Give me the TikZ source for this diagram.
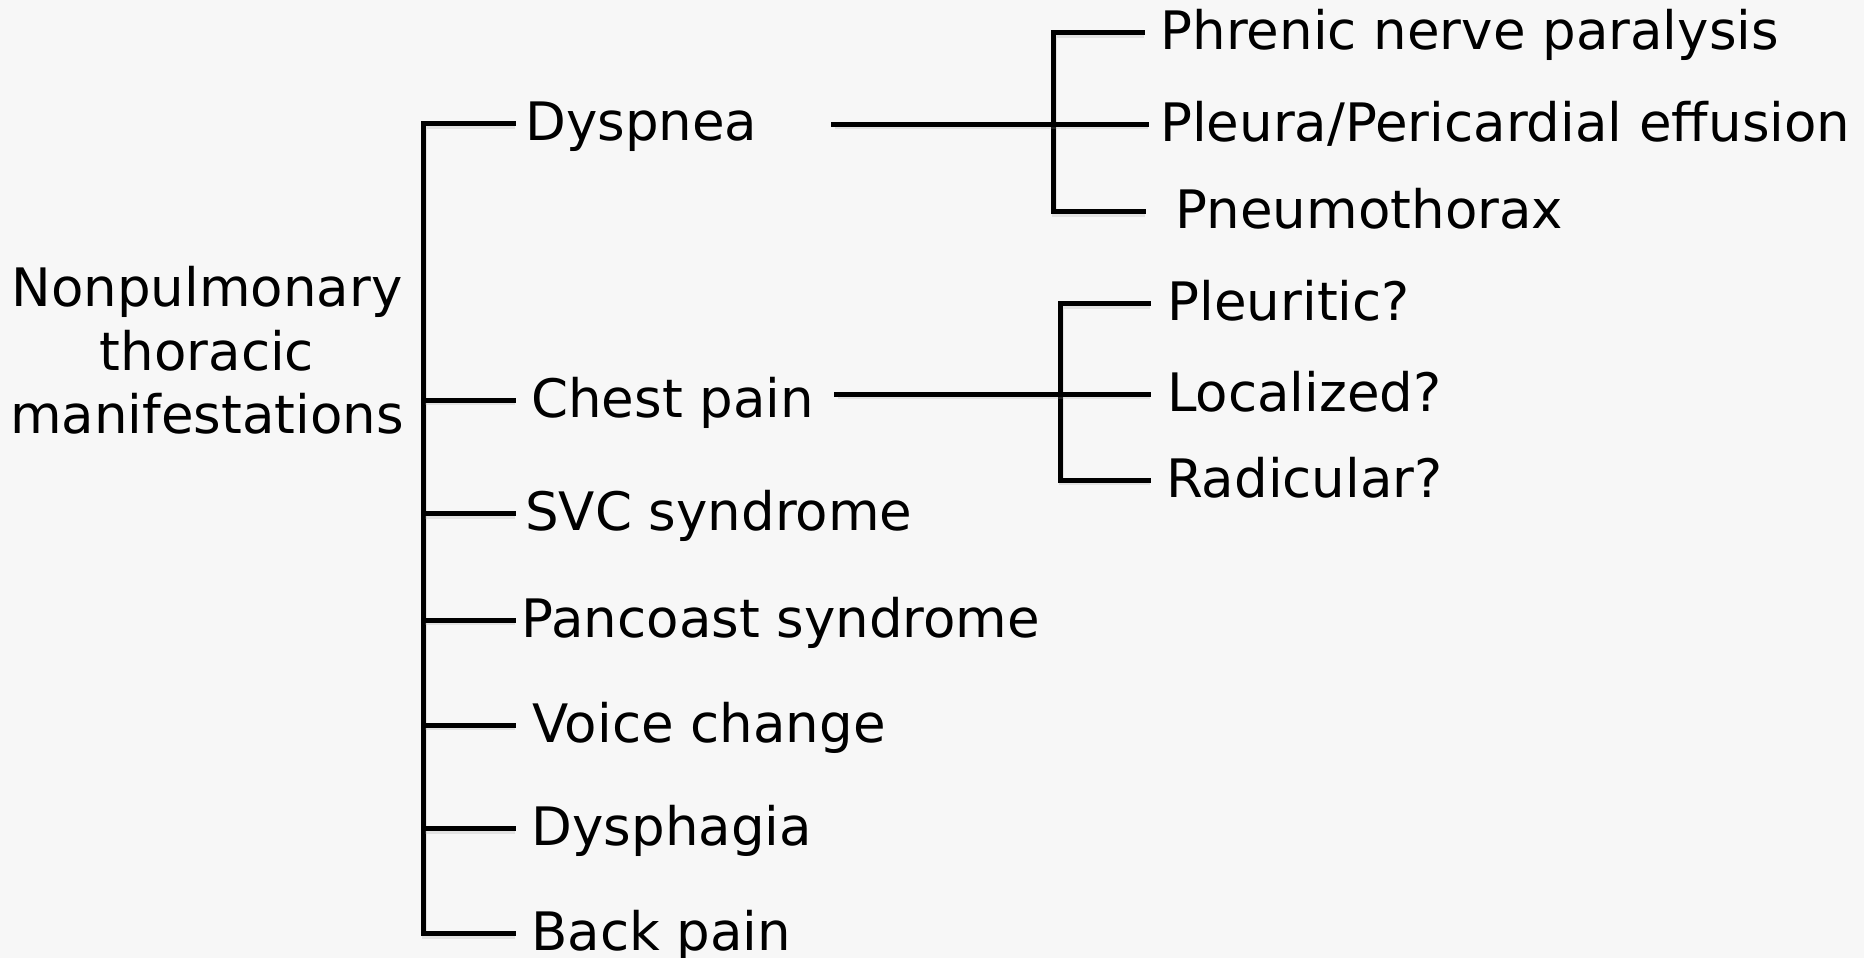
\documentclass[tikz,border=0pt]{standalone}
\usepackage{fontspec}
\setmainfont{DejaVu Sans}
\usetikzlibrary{calc}
\definecolor{paper}{RGB}{247,247,247}
\begin{document}
\begin{tikzpicture}[x=1pt,y=-1pt,
  ln/.style={line width=5pt, line join=miter, line cap=rect,
    preaction={draw=black!40, opacity=0.22, line width=5.5pt,
      transform canvas={shift={(1.5pt,-2.5pt)}}}},
  item/.style={anchor=west, inner ysep=0pt, inner xsep=#1,
    text height=39.75pt, text depth=5.3pt,
    font=\fontsize{53}{63.5}\selectfont},
  item/.default=12pt]
  \fill[paper] (0,0) rectangle (1864,958);
  \useasboundingbox (0,0) rectangle (1864,958);

  % root label (base anchor sits on the last line)
  \node[align=center, anchor=base, inner sep=0pt,
        font=\fontsize{53}{63.3}\selectfont] (root) at (207,433.3)
        {Nonpulmonary\\thoracic\\manifestations};

  % spine and branch labels
  \coordinate (spine) at (423,0);
  \node[item=12pt]   (dys)    at (513,123.3) {Dyspnea};
  \node[item=18pt]   (chest)  at (513,400)   {Chest pain};
  \node[item=12pt]   (svc)    at (513,513.3) {SVC syndrome};
  \node[item=8.5pt]  (panc)   at (513,620)   {Pancoast syndrome};
  \node[item=19.5pt] (voice)  at (513,725)   {Voice change};
  \node[item=18.5pt] (dysph)  at (513,828.3) {Dysphagia};
  \node[item=18pt]   (back)   at (513,933.3) {Back pain};

  \draw[ln] (dys.west) -| (back.west -| spine) -- (back.west);
  \foreach \n in {chest,svc,panc,voice,dysph}
    \draw[ln] (\n.west -| spine) -- (\n.west);

  % dyspnea causes
  \coordinate (b1) at (1053,0);
  \coordinate (dysout) at (833,124);
  \node[item=18.5pt] (phren)  at (1142,32.7)  {Phrenic nerve paralysis};
  \node[item=14pt]   (pleura) at (1146,124)   {Pleura/Pericardial effusion};
  \node[item=32.5pt] (pneumo) at (1143,211.7) {Pneumothorax};
  \draw[ln] (phren.west) -| (pneumo.west -| b1) -- (pneumo.west);
  \draw[ln] (dysout) -- (pleura.west);

  % chest pain qualifiers
  \coordinate (b2) at (1060,0);
  \coordinate (chestout) at (836,394);
  \node[item=19.5pt] (pleur) at (1148,303.3) {Pleuritic?};
  \node[item=19pt]   (loc)   at (1148,394)   {Localized?};
  \node[item=18pt]   (rad)   at (1148,480)   {Radicular?};
  \draw[ln] (pleur.west) -| (rad.west -| b2) -- (rad.west);
  \draw[ln] (chestout) -- (loc.west);
\end{tikzpicture}
\end{document}
